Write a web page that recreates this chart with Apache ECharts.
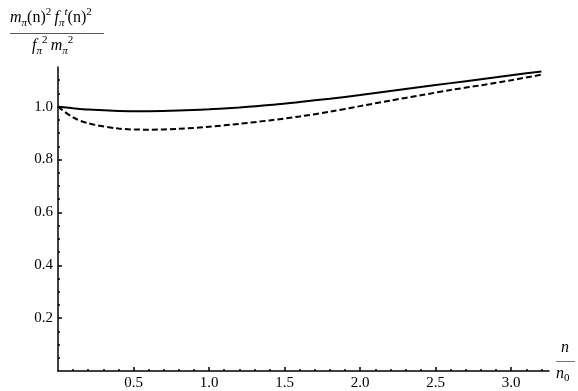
<!DOCTYPE html>
<html>
<head>
<meta charset="utf-8">
<script src="https://cdn.jsdelivr.net/npm/echarts@6/dist/echarts.min.js"></script>
<style>
  html, body { margin: 0; padding: 0; background: #fff; }
  #main { width: 578px; height: 391px; }
</style>
</head>
<body>
<div id="main"></div>
<script>
// density ratio n/n0
var xVals = [0, 0.1, 0.2, 0.4, 0.6, 0.8, 1.0, 1.2, 1.4, 1.6, 1.8, 2.0, 2.2, 2.4, 2.6, 2.8, 3.0, 3.2];
// solid curve
var solidVals = [1.0, 0.994, 0.989, 0.984, 0.983, 0.985, 0.990, 0.997, 1.006, 1.018, 1.030, 1.044, 1.059, 1.074, 1.089, 1.104, 1.119, 1.133];
// dashed curve
var dashedVals = [1.0, 0.959, 0.937, 0.917, 0.913, 0.916, 0.924, 0.935, 0.948, 0.963, 0.981, 1.002, 1.023, 1.043, 1.063, 1.081, 1.100, 1.121];

// tick labels
var xMajor = [0.5, 1.0, 1.5, 2.0, 2.5, 3.0];
var yMajor = [0.2, 0.4, 0.6, 0.8, 1.0];

var xMinor = [];
for (var i = 1; i <= 32; i++) xMinor.push(i / 10);
var yMinor = [];
for (var j = 1; j <= 22; j++) yMinor.push(j / 20);

var FONT = "Liberation Serif";
var AX = { color: "#000", width: 1.5 };

function pairs(ys) {
  var out = [];
  for (var k = 0; k < xVals.length; k++) out.push([xVals[k], ys[k]]);
  return out;
}

// rich styles for the math titles
var R = {
  i: { fontFamily: FONT, fontStyle: "italic", fontSize: 16, color: "#000", lineHeight: 22, verticalAlign: "middle" },
  n: { fontFamily: FONT, fontSize: 16, color: "#000", lineHeight: 22, verticalAlign: "middle" },
  sub: { fontFamily: FONT, fontStyle: "italic", fontSize: 11, color: "#000", lineHeight: 11, verticalAlign: "bottom" },
  sup: { fontFamily: FONT, fontSize: 11, color: "#000", lineHeight: 11, verticalAlign: "top" },
  supi: { fontFamily: FONT, fontStyle: "italic", fontSize: 11, color: "#000", lineHeight: 11, verticalAlign: "top" }
};

var chart = echarts.init(document.getElementById("main"));
chart.setOption({
  animation: false,
  grid: { left: 58, right: 29, top: 67, bottom: 19 },
  xAxis: [
    {
      type: "value", min: 0, max: 3.25, position: "bottom",
      splitLine: { show: false },
      axisLine: { show: true, lineStyle: AX },
      axisTick: { show: true, inside: true, length: 2, customValues: xMinor, lineStyle: AX },
      axisLabel: { show: false }
    },
    {
      type: "value", min: 0, max: 3.25, position: "bottom",
      splitLine: { show: false },
      axisLine: { show: false },
      axisTick: { show: true, inside: true, length: 4, customValues: xMajor, lineStyle: AX },
      axisLabel: {
        show: true, customValues: xMajor, margin: 5,
        fontFamily: FONT, fontSize: 15, color: "#000",
        formatter: function (v) { return v.toFixed(1); }
      }
    }
  ],
  yAxis: [
    {
      type: "value", min: 0, max: 1.15, position: "left",
      splitLine: { show: false },
      axisLine: { show: true, lineStyle: AX },
      axisTick: { show: true, inside: true, length: 2, customValues: yMinor, lineStyle: AX },
      axisLabel: { show: false }
    },
    {
      type: "value", min: 0, max: 1.15, position: "left",
      splitLine: { show: false },
      axisLine: { show: false },
      axisTick: { show: true, inside: true, length: 4, customValues: yMajor, lineStyle: AX },
      axisLabel: {
        show: true, customValues: yMajor, margin: 5,
        fontFamily: FONT, fontSize: 15, color: "#000",
        formatter: function (v) { return v.toFixed(1); }
      }
    }
  ],
  series: [
    {
      name: "solid", type: "line", smooth: 0.3, showSymbol: false,
      xAxisIndex: 0, yAxisIndex: 0,
      lineStyle: { color: "#000", width: 2 },
      data: pairs(solidVals)
    },
    {
      name: "dashed", type: "line", smooth: 0.3, showSymbol: false,
      xAxisIndex: 0, yAxisIndex: 0,
      lineStyle: { color: "#000", width: 2, type: [6, 3] },
      data: pairs(dashedVals)
    }
  ],
  graphic: [
    // y axis title (fraction)
    {
      type: "text", left: 10, top: 7,
      style: {
        text: "{i|m}{sub|π}{n|(n)}{sup|2} {i|f}{sub|π}{supi|t}{n|(n)}{sup|2}",
        rich: R
      }
    },
    {
      type: "line", shape: { x1: 10, y1: 33.5, x2: 104, y2: 33.5 },
      style: { stroke: "#555", lineWidth: 1 }
    },
    {
      type: "text", left: 32, top: 35,
      style: {
        text: "{i|f}{sub|π}{sup|2} {i|m}{sub|π}{sup|2}",
        rich: R
      }
    },
    // x axis title
    {
      type: "text", left: 561, top: 340,
      style: { text: "n", fontFamily: FONT, fontStyle: "italic", fontSize: 16, fill: "#000" }
    },
    {
      type: "line", shape: { x1: 556, y1: 361.5, x2: 575, y2: 361.5 },
      style: { stroke: "#777", lineWidth: 1 }
    },
    {
      type: "text", left: 556, top: 366,
      style: {
        text: "{i|n}{sub|0}",
        rich: {
          i: { fontFamily: FONT, fontStyle: "italic", fontSize: 16, color: "#000", lineHeight: 20, verticalAlign: "middle" },
          sub: { fontFamily: FONT, fontSize: 11, color: "#000", lineHeight: 11, verticalAlign: "bottom" }
        }
      }
    }
  ]
});
</script>
</body>
</html>
